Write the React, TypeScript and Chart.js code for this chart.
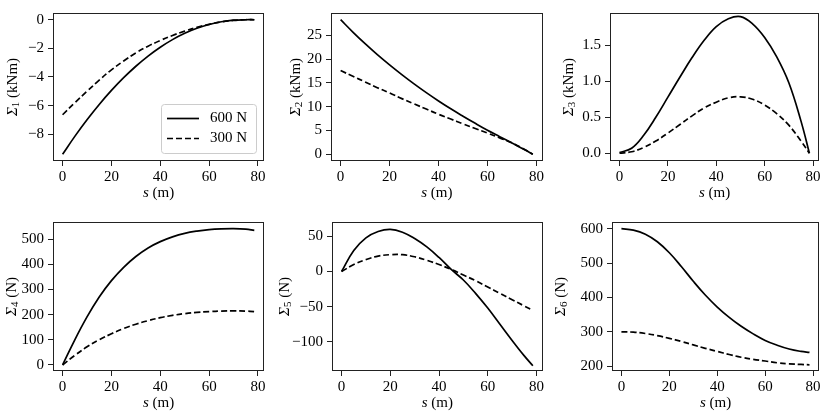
import { useEffect, useRef } from 'react'
import { Chart, registerables } from 'chart.js'

Chart.register(...registerables)

const FONT = "'Liberation Serif', 'DejaVu Serif', serif"

// arc length s (m) at which the curves were read
const sPoints = [0, 5, 10, 15, 20, 25, 30, 35, 40, 45, 50, 55, 60, 65, 70, 75, 78.5]
const xTicks = [0, 20, 40, 60, 80]
const seriesLabels = ['600 N', '300 N']

// Σ1 (kNm)
const sigma1High = [-9.4, -8.15, -6.99, -5.92, -4.94, -4.05, -3.25, -2.54, -1.92, -1.39, -0.95, -0.6, -0.33, -0.14, -0.03, 0, 0]
const sigma1Low = [-6.64, -5.8, -5.0, -4.22, -3.5, -2.88, -2.32, -1.85, -1.45, -1.1, -0.8, -0.53, -0.32, -0.15, -0.05, 0, 0]
// Σ2 (kNm)
const sigma2High = [28.3, 25.7, 23.25, 20.95, 18.8, 16.75, 14.8, 12.95, 11.2, 9.55, 8.0, 6.5, 5.05, 3.7, 2.35, 1.0, 0]
const sigma2Low = [17.6, 16.4, 15.2, 14.0, 12.9, 11.7, 10.6, 9.5, 8.4, 7.4, 6.4, 5.4, 4.45, 3.45, 2.4, 1.05, 0]
// Σ3 (kNm)
const sigma3High = [0.01, 0.07, 0.25, 0.5, 0.78, 1.06, 1.33, 1.57, 1.76, 1.87, 1.9, 1.8, 1.61, 1.34, 0.98, 0.45, 0]
const sigma3Low = [0, 0.02, 0.08, 0.17, 0.28, 0.4, 0.52, 0.63, 0.71, 0.77, 0.785, 0.75, 0.67, 0.55, 0.39, 0.17, 0]
// Σ4 (N)
const sigma4High = [0, 100, 191, 270, 335, 388, 431, 465, 490, 509, 523, 532, 538, 541, 542, 540, 535]
const sigma4Low = [0, 38, 72, 100, 124, 145, 162, 176, 188, 197, 204, 209, 212, 214, 215, 214, 212]
// Σ5 (N)
const sigma5High = [0, 30, 48, 57, 60, 56, 47, 35, 20, 3, -12, -31, -52, -75, -98, -120, -134]
const sigma5Low = [0, 10, 17, 22, 24, 24, 21, 16, 10, 3, -5, -13, -22, -31, -40, -49, -55]
// Σ6 (N)
const sigma6High = [600, 596, 584, 562, 530, 490, 447, 407, 372, 342, 316, 294, 275, 261, 250, 243, 240]
const sigma6Low = [300, 299, 295, 289, 281, 272, 262, 252, 243, 234, 226, 220, 215, 210, 207, 205, 204]

const y1Ticks = [-8, -6, -4, -2, 0]
const y1Labels = ['−8', '−6', '−4', '−2', '0']
const y2Ticks = [0, 5, 10, 15, 20, 25]
const y2Labels = ['0', '5', '10', '15', '20', '25']
const y3Ticks = [0, 0.5, 1, 1.5]
const y3Labels = ['0.0', '0.5', '1.0', '1.5']
const y4Ticks = [0, 100, 200, 300, 400, 500]
const y4Labels = ['0', '100', '200', '300', '400', '500']
const y5Ticks = [-100, -50, 0, 50]
const y5Labels = ['−100', '−50', '0', '50']
const y6Ticks = [200, 300, 400, 500, 600]
const y6Labels = ['200', '300', '400', '500', '600']

type PanelSpec = {
  cell: number[] // left, top, width, height of the canvas on the page
  box: number[] // plot frame: left, top, right, bottom on the page
  yMin: number
  yMax: number
  yTicks: number[]
  yLabels: string[]
  high: number[]
  low: number[]
  sub: string
  unit: string
  labelGap: number
  legend?: boolean
}

const Y_W = 50
const X_H = 30
const FS = 15

const panels: PanelSpec[] = [
  { cell: [0, 0, 277, 209], box: [53, 4, 264, 161], yMin: -9.87, yMax: 0.47, yTicks: y1Ticks, yLabels: y1Labels, high: sigma1High, low: sigma1Low, sub: '1', unit: '(kNm)', labelGap: 40, legend: true },
  { cell: [277, 0, 277, 209], box: [331, 4, 542.5, 161], yMin: -1.42, yMax: 29.7, yTicks: y2Ticks, yLabels: y2Labels, high: sigma2High, low: sigma2Low, sub: '2', unit: '(kNm)', labelGap: 35 },
  { cell: [554, 0, 276, 209], box: [610, 4, 819, 161], yMin: -0.108, yMax: 1.95, yTicks: y3Ticks, yLabels: y3Labels, high: sigma3High, low: sigma3Low, sub: '3', unit: '(kNm)', labelGap: 41 },
  { cell: [0, 209, 277, 209], box: [53, 216, 264, 371], yMin: -24, yMax: 568, yTicks: y4Ticks, yLabels: y4Labels, high: sigma4High, low: sigma4Low, sub: '4', unit: '(N)', labelGap: 41 },
  { cell: [277, 209, 277, 209], box: [332, 216, 542.5, 371], yMin: -141.5, yMax: 70.5, yTicks: y5Ticks, yLabels: y5Labels, high: sigma5High, low: sigma5Low, sub: '5', unit: '(N)', labelGap: 47 },
  { cell: [554, 209, 276, 209], box: [612, 216, 819, 371], yMin: 186, yMax: 619.5, yTicks: y6Ticks, yLabels: y6Labels, high: sigma6High, low: sigma6Low, sub: '6', unit: '(N)', labelGap: 51 },
]

type Part = { text: string; font: string; dy: number }

function drawParts(ctx: CanvasRenderingContext2D, parts: Part[], cx: number, cy: number, rotate: boolean) {
  ctx.save()
  ctx.translate(cx, cy)
  if (rotate) ctx.rotate(-Math.PI / 2)
  ctx.textBaseline = 'middle'
  ctx.textAlign = 'left'
  ctx.fillStyle = '#000'
  const widths = parts.map((p) => {
    ctx.font = p.font
    return ctx.measureText(p.text).width
  })
  let x = -widths.reduce((a, b) => a + b, 0) / 2
  parts.forEach((p, i) => {
    ctx.font = p.font
    ctx.fillText(p.text, x, p.dy)
    x += widths[i]
  })
  ctx.restore()
}

function PanelChart({ spec }: { spec: PanelSpec }) {
  const canvasRef = useRef<HTMLCanvasElement>(null)
  const chartRef = useRef<Chart | null>(null)

  useEffect(() => {
    if (!canvasRef.current) return
    if (chartRef.current) chartRef.current.destroy()
    const ctx = canvasRef.current.getContext('2d')
    if (!ctx) return

    const [cl, ct, cw, ch] = spec.cell
    const [bl, bt, br, bb] = spec.box

    const decor = {
      id: 'decor',
      afterDraw(chart: Chart) {
        const c = chart.ctx
        const a = chart.chartArea
        // frame
        c.save()
        c.strokeStyle = '#222'
        c.lineWidth = 1
        c.strokeRect(Math.round(a.left) + 0.5, Math.round(a.top) + 0.5, Math.round(a.right - a.left) - 1, Math.round(a.bottom - a.top) - 1)
        c.restore()
        // axis titles
        drawParts(c, [
          { text: 's', font: `italic ${FS}px ${FONT}`, dy: 0 },
          { text: ' (m)', font: `${FS}px ${FONT}`, dy: 0 },
        ], (a.left + a.right) / 2, a.bottom + 32, false)
        drawParts(c, [
          { text: 'Σ', font: `italic ${FS}px ${FONT}`, dy: 0 },
          { text: spec.sub, font: `11px ${FONT}`, dy: 3 },
          { text: ' ' + spec.unit, font: `${FS}px ${FONT}`, dy: 0 },
        ], a.left - spec.labelGap, (a.top + a.bottom) / 2, true)
        // legend
        if (spec.legend) {
          const w = 95
          const h = 49
          const x0 = a.right - 8 - w
          const y0 = a.bottom - 8 - h
          c.save()
          c.fillStyle = 'rgba(255,255,255,0.8)'
          c.strokeStyle = '#cccccc'
          c.lineWidth = 1
          c.beginPath()
          c.roundRect(x0 + 0.5, y0 + 0.5, w, h, 3)
          c.fill()
          c.stroke()
          seriesLabels.forEach((label, i) => {
            const y = y0 + 14.5 + i * 20
            c.strokeStyle = '#000'
            c.lineWidth = 1.7
            c.setLineDash(i === 0 ? [] : [6, 3])
            c.beginPath()
            c.moveTo(x0 + 6, y)
            c.lineTo(x0 + 38, y)
            c.stroke()
            c.setLineDash([])
            c.fillStyle = '#000'
            c.font = `${FS}px ${FONT}`
            c.textBaseline = 'middle'
            c.textAlign = 'left'
            c.fillText(label, x0 + 49, y)
          })
          c.restore()
        }
      },
    }

    const tickFont = { family: FONT, size: FS }

    chartRef.current = new Chart(ctx, {
      type: 'line',
      data: {
        datasets: [
          {
            label: seriesLabels[0],
            data: sPoints.map((s, i) => ({ x: s, y: spec.high[i] })),
            borderColor: '#000',
            borderWidth: 1.7,
            pointRadius: 0,
            tension: 0.4,
            order: 1,
          },
          {
            label: seriesLabels[1],
            data: sPoints.map((s, i) => ({ x: s, y: spec.low[i] })),
            borderColor: '#000',
            borderWidth: 1.7,
            borderDash: [6, 3],
            pointRadius: 0,
            tension: 0.4,
            order: 0,
          },
        ],
      },
      options: {
        animation: false,
        responsive: true,
        maintainAspectRatio: false,
        layout: {
          padding: {
            left: bl - cl - Y_W,
            top: bt - ct,
            right: cl + cw - br,
            bottom: ct + ch - bb - X_H,
          },
        },
        plugins: {
          legend: { display: false },
          tooltip: { enabled: false },
        },
        scales: {
          x: {
            type: 'linear',
            min: -3.93,
            max: 82.47,
            afterBuildTicks: (scale: any) => {
              scale.ticks = xTicks.map((v) => ({ value: v }))
            },
            afterFit: (scale: any) => {
              scale.height = X_H
            },
            border: { display: false },
            grid: { drawOnChartArea: false, drawTicks: true, tickLength: 5, color: '#222' },
            ticks: {
              autoSkip: false,
              maxRotation: 0,
              padding: 2,
              color: '#000',
              font: tickFont,
              callback: (v: any) => String(v),
            },
          },
          y: {
            type: 'linear',
            min: spec.yMin,
            max: spec.yMax,
            afterBuildTicks: (scale: any) => {
              scale.ticks = spec.yTicks.map((v) => ({ value: v }))
            },
            afterFit: (scale: any) => {
              scale.width = Y_W
            },
            border: { display: false },
            grid: { drawOnChartArea: false, drawTicks: true, tickLength: 5, color: '#222' },
            ticks: {
              autoSkip: false,
              padding: 4,
              color: '#000',
              font: tickFont,
              callback: (_v: any, i: number) => spec.yLabels[i],
            },
          },
        },
      },
      plugins: [decor],
    })

    return () => {
      if (chartRef.current) {
        chartRef.current.destroy()
        chartRef.current = null
      }
    }
  }, [spec])

  const [cl, ct, cw, ch] = spec.cell
  return (
    <div style={{ position: 'absolute', left: cl, top: ct, width: cw, height: ch }}>
      <canvas ref={canvasRef} />
    </div>
  )
}

export default function App() {
  return (
    <div style={{ position: 'absolute', left: 0, top: 0, width: 830, height: 418, background: '#fff' }}>
      {panels.map((p, i) => (
        <PanelChart key={i} spec={p} />
      ))}
    </div>
  )
}
